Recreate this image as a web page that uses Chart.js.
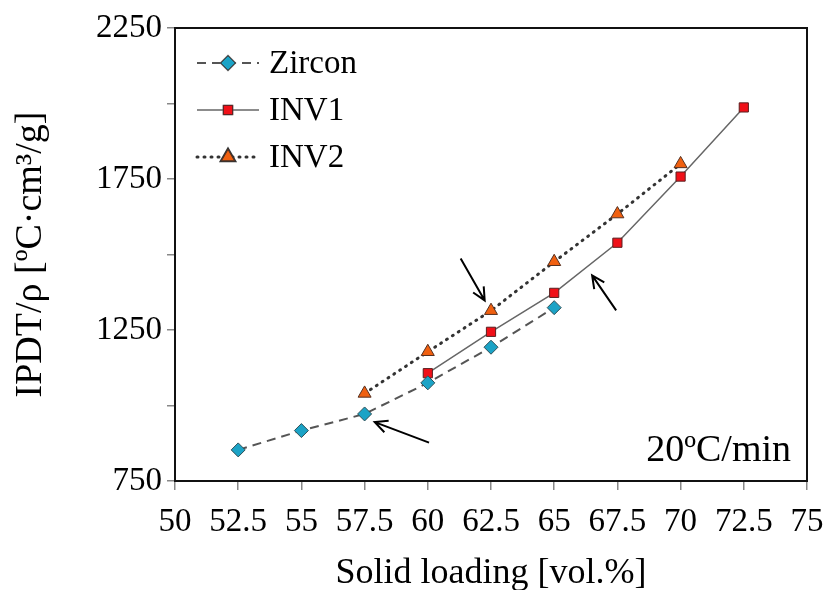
<!DOCTYPE html>
<html>
<head>
<meta charset="utf-8">
<script src="https://cdn.jsdelivr.net/npm/chart.js@4.4.1/dist/chart.umd.min.js"></script>
<style>
  html, body { margin: 0; padding: 0; background: #fff; }
  #wrap { width: 827px; height: 590px; }
</style>
</head>
<body>
<div id="wrap"><canvas id="ipdtChart"></canvas></div>
<script>
// Data
const zirconX = [52.5, 55, 57.5, 60, 62.5, 65];
const zirconY = [853, 917, 972, 1075, 1193, 1324];
const inv1X = [60, 62.5, 65, 67.5, 70, 72.5];
const inv1Y = [1107, 1244, 1373, 1539, 1758, 1987];
const inv2X = [57.5, 60, 62.5, 65, 67.5, 70];
const inv2Y = [1040, 1178, 1314, 1476, 1634, 1800];
const yLabelled = [750, 1250, 1750, 2250];

// Arrows (tail -> tip, in data units)
const arrows = [
  { from: [60.05, 877], to: [57.9, 945] },
  { from: [61.3, 1487], to: [62.25, 1348] },
  { from: [67.45, 1315], to: [66.5, 1431] }
];

const serif = "'Liberation Serif', 'Times New Roman', serif";

function pts(xs, ys) {
  return xs.map((x, i) => ({ x: x, y: ys[i] }));
}

// Frame, legend, arrows, rate label
const extras = {
  id: 'extras',
  afterDatasetsDraw(chart) {
    const ctx = chart.ctx;
    const a = chart.chartArea;
    const xs = chart.scales.x, ys = chart.scales.y;
    ctx.save();

    // frame
    ctx.strokeStyle = '#111';
    ctx.lineWidth = 2;
    ctx.strokeRect(a.left, a.top, a.right - a.left, a.bottom - a.top);

    // arrows
    ctx.strokeStyle = '#000';
    ctx.lineWidth = 2;
    arrows.forEach(ar => {
      const x1 = xs.getPixelForValue(ar.from[0]), y1 = ys.getPixelForValue(ar.from[1]);
      const x2 = xs.getPixelForValue(ar.to[0]), y2 = ys.getPixelForValue(ar.to[1]);
      const ang = Math.atan2(y2 - y1, x2 - x1);
      ctx.beginPath();
      ctx.moveTo(x1, y1);
      ctx.lineTo(x2, y2);
      ctx.moveTo(x2 - 14 * Math.cos(ang - 0.45), y2 - 14 * Math.sin(ang - 0.45));
      ctx.lineTo(x2, y2);
      ctx.lineTo(x2 - 14 * Math.cos(ang + 0.45), y2 - 14 * Math.sin(ang + 0.45));
      ctx.stroke();
    });

    // rate label
    ctx.fillStyle = '#000';
    ctx.font = '38px ' + serif;
    ctx.textAlign = 'right';
    ctx.textBaseline = 'alphabetic';
    ctx.fillText('20ºC/min', a.right - 16, a.bottom - 20);

    // legend
    ctx.font = '33px ' + serif;
    ctx.textAlign = 'left';
    ctx.textBaseline = 'middle';
    chart.data.datasets.forEach((ds, i) => {
      const y = a.top + 35 + i * 47;
      const x0 = a.left + 22, x1 = a.left + 84;
      ctx.strokeStyle = ds.borderColor;
      ctx.lineWidth = ds.borderWidth;
      ctx.setLineDash(ds.borderDash || []);
      ctx.lineCap = ds.borderCapStyle || 'butt';
      ctx.beginPath();
      ctx.moveTo(x0, y);
      ctx.lineTo(x1, y);
      ctx.stroke();
      ctx.setLineDash([]);
      ctx.lineCap = 'butt';
      Chart.helpers.drawPoint(ctx, {
        pointStyle: ds.pointStyle,
        radius: ds.pointRadius,
        borderWidth: ds.pointBorderWidth,
        rotation: 0
      }, (x0 + x1) / 2, y);
      ctx.fillStyle = ds.pointBackgroundColor;
      ctx.strokeStyle = ds.pointBorderColor;
      ctx.lineWidth = ds.pointBorderWidth;
      ctx.fill();
      ctx.stroke();
      ctx.fillStyle = '#000';
      ctx.fillText(ds.label, x1 + 10, y + 1);
    });
    ctx.restore();
  }
};

new Chart(document.getElementById('ipdtChart'), {
  type: 'line',
  data: {
    datasets: [{
      label: 'Zircon',
      data: pts(zirconX, zirconY),
      borderColor: '#555',
      borderWidth: 2,
      borderDash: [9, 6],
      pointStyle: 'rectRot',
      pointRadius: 7,
      pointBackgroundColor: '#1ba3c6',
      pointBorderColor: '#2f4f57',
      pointBorderWidth: 1
    }, {
      label: 'INV1',
      data: pts(inv1X, inv1Y),
      borderColor: '#666',
      borderWidth: 1.5,
      pointStyle: 'rect',
      pointRadius: 6.5,
      pointBackgroundColor: '#f01018',
      pointBorderColor: '#5a2020',
      pointBorderWidth: 1
    }, {
      label: 'INV2',
      data: pts(inv2X, inv2Y),
      borderColor: '#333',
      borderWidth: 3,
      borderDash: [1, 6],
      borderCapStyle: 'round',
      pointStyle: 'triangle',
      pointRadius: 7.5,
      pointBackgroundColor: '#f06010',
      pointBorderColor: '#553020',
      pointBorderWidth: 1
    }]
  },
  options: {
    responsive: true,
    maintainAspectRatio: false,
    animation: false,
    layout: { padding: { top: 28, right: 20, left: 0, bottom: 0 } },
    plugins: {
      legend: { display: false },
      tooltip: { enabled: false }
    },
    scales: {
      x: {
        type: 'linear',
        min: 50,
        max: 75,
        border: { display: true, color: '#444', width: 2 },
        grid: { drawOnChartArea: false, drawTicks: true, tickLength: 9, color: '#888', lineWidth: 1.5 },
        ticks: {
          stepSize: 2.5,
          padding: 13,
          color: '#000',
          font: { family: serif, size: 33 },
          maxRotation: 0,
          autoSkip: false
        },
        title: {
          display: true,
          text: 'Solid loading [vol.%]',
          color: '#000',
          font: { family: serif, size: 36, lineHeight: 1.0 },
          padding: { top: 0, bottom: -2 }
        },
        afterFit(scale) {
          scale.height = 109;
          scale.paddingLeft = 0;
          scale.paddingRight = 0;
        }
      },
      y: {
        min: 750,
        max: 2250,
        border: { display: true, color: '#444', width: 2 },
        grid: { drawOnChartArea: false, drawTicks: true, tickLength: 8, color: '#888', lineWidth: 1.5 },
        ticks: {
          stepSize: 250,
          padding: 5,
          color: '#000',
          font: { family: serif, size: 33 },
          callback: v => yLabelled.includes(v) ? String(v) : ''
        },
        title: {
          display: true,
          text: 'IPDT/ρ [ºC·cm³/g]',
          color: '#000',
          font: { family: serif, size: 38, lineHeight: 1.0 },
          padding: { top: 12, bottom: 0 }
        },
        afterFit(scale) {
          scale.width = 175;
          scale.paddingTop = 0;
          scale.paddingBottom = 0;
        }
      }
    }
  },
  plugins: [extras]
});
</script>
</body>
</html>
